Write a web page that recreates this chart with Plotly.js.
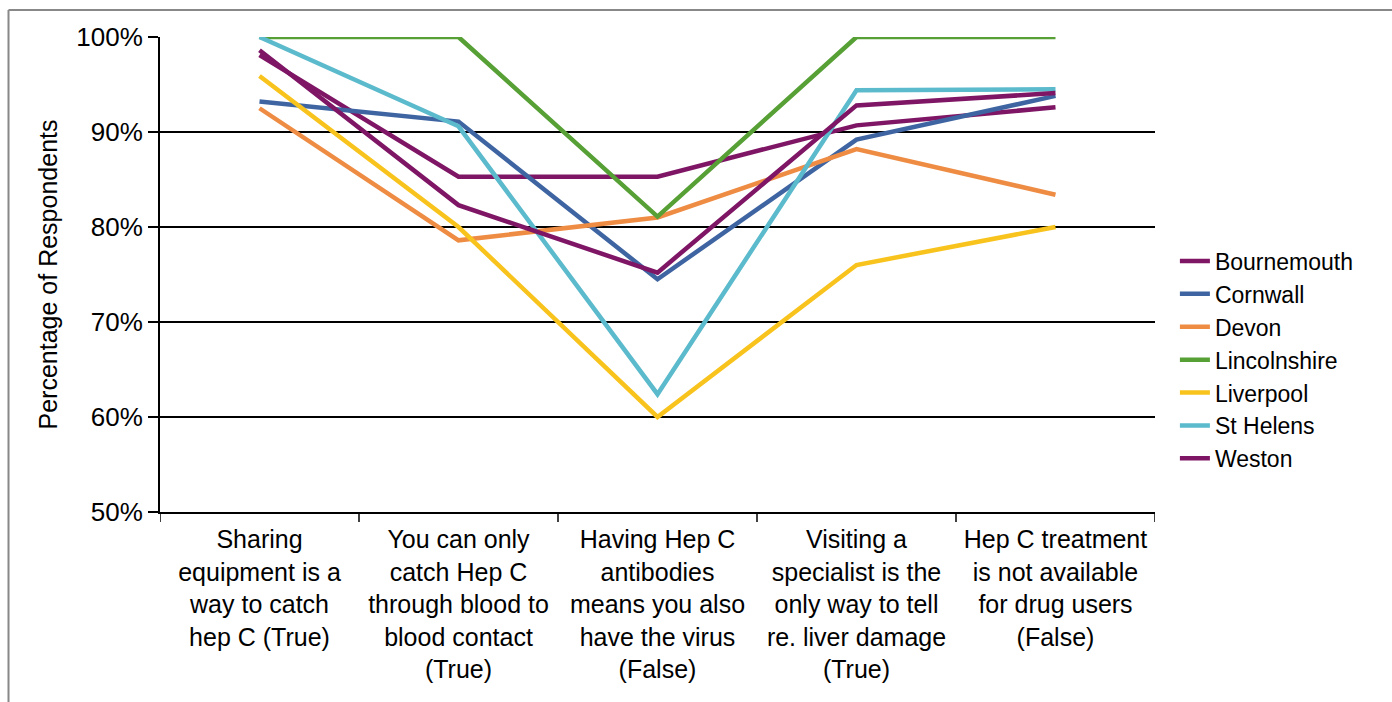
<!DOCTYPE html>
<html>
<head>
<meta charset="utf-8">
<script src="https://cdn.plot.ly/plotly-3.0.1.min.js"></script>
<style>
  html, body { margin: 0; padding: 0; background: #fff; }
  #chart { width: 1392px; height: 702px; }
</style>
</head>
<body>
<div id="chart"></div>
<script>
const categories = [
  "Sharing<br>equipment is a<br>way to catch<br>hep C (True)",
  "You can only<br>catch Hep C<br>through blood to<br>blood contact<br>(True)",
  "Having Hep C<br>antibodies<br>means you also<br>have the virus<br>(False)",
  "Visiting a<br>specialist is the<br>only way to tell<br>re. liver damage<br>(True)",
  "Hep C treatment<br>is not available<br>for drug users<br>(False)"
];
const seriesNames = ["Bournemouth", "Cornwall", "Devon", "Lincolnshire", "Liverpool", "St Helens", "Weston"];
const bournemouth  = [98.1, 85.3, 85.3, 90.7, 92.6];
const cornwall     = [93.2, 91.1, 74.5, 89.2, 93.8];
const devon        = [92.5, 78.6, 81.0, 88.2, 83.4];
const lincolnshire = [100, 100, 81.1, 100, 100];
const liverpool    = [95.9, 80.0, 60.0, 76.0, 80.0];
const stHelens     = [100, 90.6, 62.4, 94.4, 94.5];
const weston       = [98.6, 82.3, 75.2, 92.8, 94.1];
const seriesValues = [bournemouth, cornwall, devon, lincolnshire, liverpool, stHelens, weston];
const colors = ["#7f1665", "#3e65a2", "#ee8c44", "#56a035", "#f8c31c", "#5bbacc", "#7f1665"];
const yTickVals = [50, 60, 70, 80, 90, 100];
const yTickText = ["50%", "60%", "70%", "80%", "90%", "100%"];

const xIdx = categories.map((c, i) => i);
const traces = seriesNames.map((name, i) => ({
  type: "scatter",
  mode: "lines",
  name: name,
  x: xIdx,
  y: seriesValues[i],
  line: { color: colors[i], width: 4.5 },
  hoverinfo: "name+y"
}));

const FONT = "Liberation Sans, Arial, sans-serif";
const L = 160, R = 1155, T = 37, B = 512;
const W = R - L, H = B - T;
const px = v => (v - L) / W;
const py = v => (B - v) / H;

const layout = {
  width: 1392,
  height: 702,
  margin: { l: L, r: 1392 - R, t: T, b: 702 - B, pad: 0 },
  paper_bgcolor: "#ffffff",
  plot_bgcolor: "#ffffff",
  font: { family: FONT, size: 25, color: "#000" },
  showlegend: true,
  legend: {
    x: 1.020, xanchor: "left",
    y: py(360), yanchor: "middle",
    font: { family: FONT, size: 23, color: "#000" },
    bgcolor: "rgba(0,0,0,0)",
    borderwidth: 0,
    tracegroupgap: 0
  },
  xaxis: {
    type: "linear",
    range: [-0.5, 4.5],
    tickmode: "array",
    tickvals: xIdx,
    ticktext: categories,
    showgrid: false,
    zeroline: false,
    showline: true,
    linecolor: "#000",
    linewidth: 2,
    ticks: "",
    ticklabelstandoff: 4,
    tickfont: { family: FONT, size: 25, color: "#000" },
    fixedrange: true
  },
  yaxis: {
    range: [50, 100],
    tickmode: "array",
    tickvals: yTickVals,
    ticktext: yTickText,
    showgrid: true,
    gridcolor: "#000",
    gridwidth: 1.5,
    zeroline: false,
    showline: true,
    linecolor: "#000",
    linewidth: 2,
    ticks: "outside",
    ticklen: 10,
    tickwidth: 1.5,
    tickcolor: "#000",
    tickfont: { family: FONT, size: 26, color: "#000" },
    title: { text: "Percentage of Respondents", font: { family: FONT, size: 25, color: "#000" }, standoff: 12 },
    fixedrange: true
  },
  shapes: [
    ...[-0.5, 0.5, 1.5, 2.5, 3.5, 4.5].map(b => ({
      type: "line", xref: "x", yref: "paper",
      x0: b, x1: b, y0: 0, y1: -10 / H,
      line: { color: "#000", width: 1.5 }
    })),
    { type: "line", xref: "paper", yref: "paper",
      x0: px(8.5), x1: px(1392), y0: py(10), y1: py(10),
      line: { color: "#888", width: 2 } },
    { type: "line", xref: "paper", yref: "paper",
      x0: px(8.5), x1: px(8.5), y0: py(10), y1: py(702),
      line: { color: "#888", width: 2 } }
  ]
};

Plotly.newPlot("chart", traces, layout, { displayModeBar: false, staticPlot: true });
</script>
</body>
</html>
